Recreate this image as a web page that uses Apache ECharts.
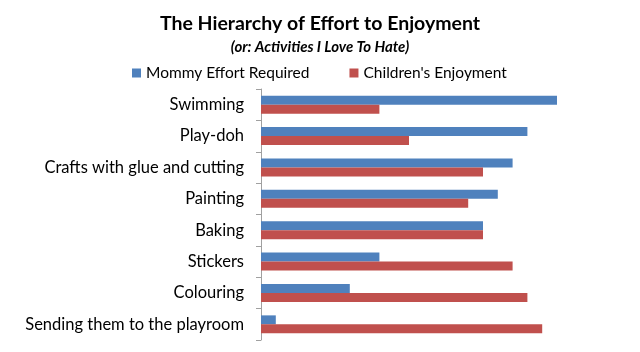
<!DOCTYPE html>
<html>
<head>
<meta charset="utf-8">
<script src="https://cdn.jsdelivr.net/npm/echarts@6/dist/echarts.min.js"></script>
<style>
  html, body { margin: 0; padding: 0; background: #fff; }
  #chart { width: 640px; height: 352px; }
</style>
</head>
<body>
<div id="chart"></div>
<script>
const activities = ['Swimming', 'Play-doh', 'Crafts with glue and cutting', 'Painting', 'Baking', 'Stickers', 'Colouring', 'Sending them to the playroom']
const mommyEffort = [20, 18, 17, 16, 15, 8, 6, 1]
const childrenEnjoyment = [8, 10, 15, 14, 15, 17, 18, 19]

const font = 'Lato'
const chart = echarts.init(document.getElementById('chart'))
chart.setOption({
  color: ['#4F81BD', '#C0504D'],
  animation: false,
  title: [{
    text: 'The Hierarchy of Effort to Enjoyment',
    left: 'center',
    top: 9,
    textStyle: { fontFamily: font, fontSize: 19.5, fontWeight: 'bold', color: '#000' }
  }, {
    text: '(or: Activities I Love To Hate)',
    left: 'center',
    top: 35,
    textStyle: { fontFamily: font, fontSize: 15, fontWeight: 'bold', fontStyle: 'italic', color: '#000' }
  }],
  legend: {
    top: 60,
    left: 127,
    itemWidth: 9,
    itemHeight: 9,
    itemGap: 40,
    icon: 'rect',
    textStyle: { fontFamily: font, fontSize: 15.5, color: '#000' },
    data: ['Mommy Effort Required', "Children's Enjoyment"]
  },
  grid: {
    left: 261,
    right: 83,
    top: 89,
    bottom: 12
  },
  xAxis: {
    type: 'value',
    min: 0,
    max: 20,
    show: false
  },
  yAxis: {
    type: 'category',
    inverse: true,
    data: activities,
    axisLine: { lineStyle: { color: '#A0A0A0' } },
    axisTick: { show: true, length: 5, lineStyle: { color: '#A0A0A0' } },
    axisLabel: { fontFamily: font, fontSize: 16.5, color: '#000', margin: 17 }
  },
  series: [{
    name: 'Mommy Effort Required',
    type: 'bar',
    data: mommyEffort,
    barGap: 0,
    barCategoryGap: '43%'
  }, {
    name: "Children's Enjoyment",
    type: 'bar',
    data: childrenEnjoyment,
    barGap: 0,
    barCategoryGap: '43%'
  }]
})
</script>
</body>
</html>
